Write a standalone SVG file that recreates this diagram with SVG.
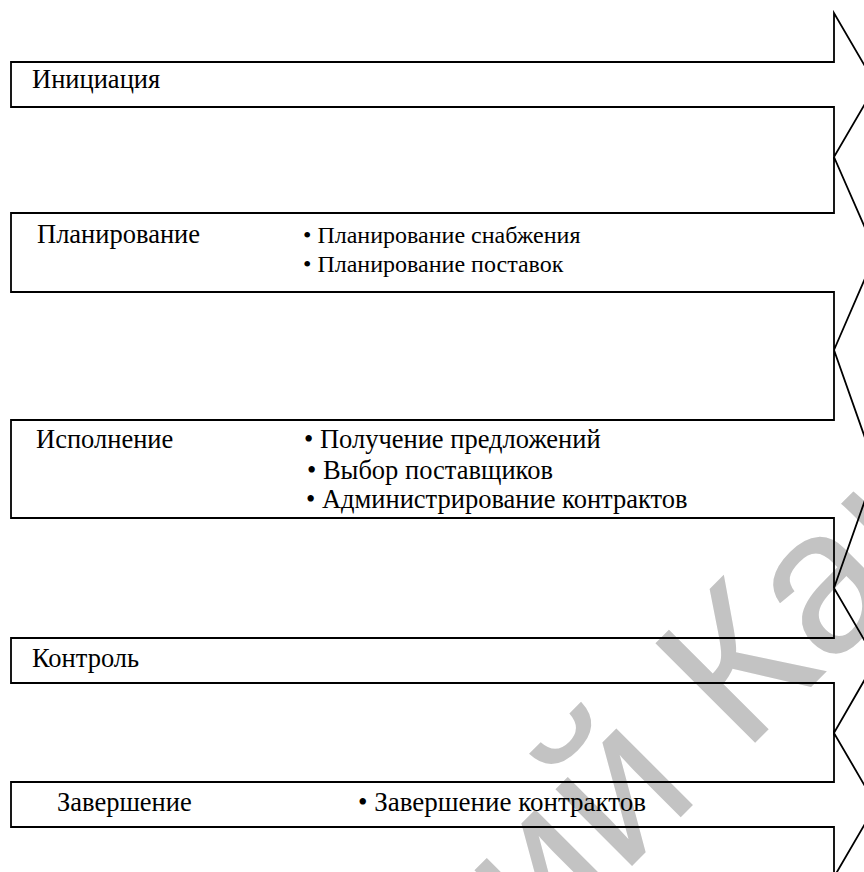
<svg xmlns="http://www.w3.org/2000/svg" width="864" height="872" viewBox="0 0 864 872">
<style>
.arrow{fill:none;stroke:#000;stroke-width:1.8;stroke-linejoin:miter}
.t{font-family:"Liberation Serif","Times New Roman",serif;font-size:26.5px;fill:#000}
.s{font-size:24px}
.l{font-size:27px}
.wm{font-family:"Liberation Sans",Arial,sans-serif;font-size:205px;fill:#c3c3c3}
</style>
<rect x="0" y="0" width="864" height="872" fill="#fff"/>
<g id="watermark">
<text class="wm" x="541" y="957" transform="rotate(-45 541 957)">ий Кар</text>
</g>
<g id="connectors"></g>
<g id="stage-initiation">
<polygon class="arrow" points="11,62 834,62 834,13 876,85 834,157 834,107 11,107"/>
<text class="t" x="32" y="88">Инициация</text>
</g>
<g id="stage-planning">
<polygon class="arrow" points="11,213 834,213 834,157 876,253 834,350 834,292 11,292"/>
<text class="t" x="37" y="243">Планирование</text>
<text class="t s" x="303" y="243">• Планирование снабжения</text>
<text class="t s" x="303" y="272">• Планирование поставок</text>
</g>
<g id="stage-execution">
<polygon class="arrow" points="11,420 834,420 834,350 876,469 834,588 834,518 11,518"/>
<text class="t" x="36" y="448">Исполнение</text>
<text class="t" x="304" y="448">• Получение предложений</text>
<text class="t" x="307" y="479">• Выбор поставщиков</text>
<text class="t" x="306" y="508">• Администрирование контрактов</text>
</g>
<g id="stage-control">
<polygon class="arrow" points="11,638 834,638 834,588 876,660 834,733 834,683 11,683"/>
<text class="t" x="32" y="667">Контроль</text>
</g>
<g id="stage-closing">
<polygon class="arrow" points="11,782 834,782 834,733 876,805 834,877 834,827 11,827"/>
<text class="t" x="57" y="811">Завершение</text>
<text class="t l" x="358" y="811">• Завершение контрактов</text>
</g>
</svg>
